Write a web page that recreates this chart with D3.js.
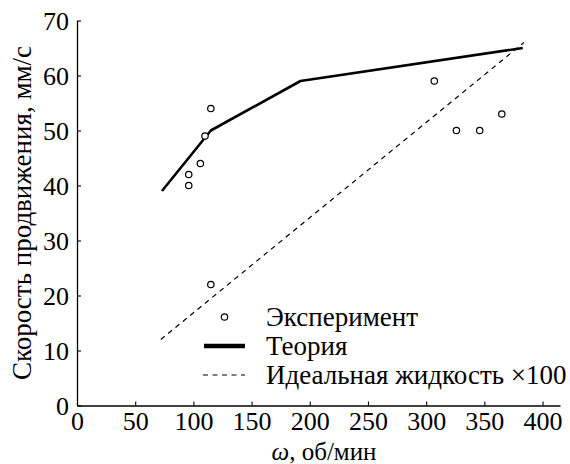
<!DOCTYPE html>
<html>
<head>
<meta charset="utf-8">
<script src="https://cdn.jsdelivr.net/npm/d3@7"></script>
</head>
<body style="margin:0">
<svg id="chart" width="570" height="464" style="font-family: 'Liberation Serif'"></svg>
<script>
// Experimental points: rotation speed (rpm) and advance speed (mm/s)
const expOmega = [96, 96, 106, 110, 115, 115, 307, 326, 346, 365];
const expSpeed = [40, 42, 44, 49, 54, 22, 59, 50, 50, 53];

// Theoretical curve
const theoryOmega = [73, 115, 192, 383];
const theorySpeed = [39, 50, 59, 65];

// Ideal fluid (scaled x100)
const idealOmega = [72, 384];
const idealSpeed = [12, 66];

const xTicks = [0, 50, 100, 150, 200, 250, 300, 350, 400];
const yTicks = [0, 10, 20, 30, 40, 50, 60, 70];

const legendLabels = ["Эксперимент", "Теория", "Идеальная жидкость ×100"];

const svg = d3.select("#chart");
const fsTick = 26;
const fsText = 27;

// Serif face for every label
function serif(sel, size) {
  sel.attr("font-family", "Liberation Serif")
     .style("font-family", "'Liberation Serif'")
     .attr("font-size", size)
     .attr("fill", "#000");
  return sel;
}

const x = d3.scaleLinear().domain([0, 415]).range([77, 560]);
const y = d3.scaleLinear().domain([0, 70]).range([405.5, 20.5]);

// Axes with inward ticks
const xAxis = svg.append("g")
  .attr("transform", `translate(0,${y(0)})`)
  .call(d3.axisBottom(x).tickValues(xTicks).tickSizeInner(-4).tickSizeOuter(0).tickPadding(6));
const yAxis = svg.append("g")
  .attr("transform", `translate(${x(0)},0)`)
  .call(d3.axisLeft(y).tickValues(yTicks).tickSizeInner(-4).tickSizeOuter(0).tickPadding(8));

[xAxis, yAxis].forEach(g => {
  serif(g, fsTick);
  g.select(".domain").attr("stroke", "#000").attr("stroke-width", 1.3);
  g.selectAll(".tick line").attr("stroke", "#000").attr("stroke-width", 1.1);
  serif(g.selectAll(".tick text"), fsTick);
});
xAxis.selectAll(".tick text").attr("dy", "0.71em");
yAxis.selectAll(".tick text").attr("dy", "0.34em");

// Axis titles
const xTitle = serif(svg.append("text"), 25)
  .attr("x", 324)
  .attr("y", 460)
  .attr("text-anchor", "middle");
xTitle.append("tspan").attr("font-style", "italic").text("ω");
xTitle.append("tspan").text(", об/мин");

serif(svg.append("text"), fsText)
  .attr("transform", `translate(31,${(y(0) + y(70)) / 2}) rotate(-90)`)
  .attr("text-anchor", "middle")
  .text("Скорость продвижения, мм/с");

// Ideal fluid line
const line = d3.line().x(d => x(d[0])).y(d => y(d[1]));
svg.append("path")
  .datum(d3.zip(idealOmega, idealSpeed))
  .attr("d", line)
  .attr("fill", "none")
  .attr("stroke", "#000")
  .attr("stroke-width", 1.2)
  .attr("stroke-dasharray", "5,4.5");

// Theory line
svg.append("path")
  .datum(d3.zip(theoryOmega, theorySpeed))
  .attr("d", line)
  .attr("fill", "none")
  .attr("stroke", "#000")
  .attr("stroke-width", 2.6)
  .attr("stroke-linejoin", "round");

// Experimental points
svg.append("g").selectAll("circle")
  .data(d3.zip(expOmega, expSpeed))
  .join("circle")
  .attr("cx", d => x(d[0]))
  .attr("cy", d => y(d[1]))
  .attr("r", 3.2)
  .attr("fill", "#fff")
  .attr("stroke", "#000")
  .attr("stroke-width", 1.2);

// Legend
const lg = svg.append("g");
const rowY = [317, 346, 375];
lg.append("circle").attr("cx", 224.5).attr("cy", rowY[0]).attr("r", 3.2)
  .attr("fill", "#fff").attr("stroke", "#000").attr("stroke-width", 1.2);
lg.append("line").attr("x1", 204).attr("x2", 245).attr("y1", rowY[1]).attr("y2", rowY[1])
  .attr("stroke", "#000").attr("stroke-width", 4.5);
lg.append("line").attr("x1", 203).attr("x2", 245).attr("y1", rowY[2]).attr("y2", rowY[2])
  .attr("stroke", "#000").attr("stroke-width", 1.2).attr("stroke-dasharray", "5,4.5");
serif(lg.selectAll("text.lbl")
  .data(legendLabels)
  .join("text")
  .attr("class", "lbl"), fsText)
  .attr("x", 266)
  .attr("y", (d, i) => rowY[i] + 9)
  .text(d => d);
</script>
</body>
</html>
